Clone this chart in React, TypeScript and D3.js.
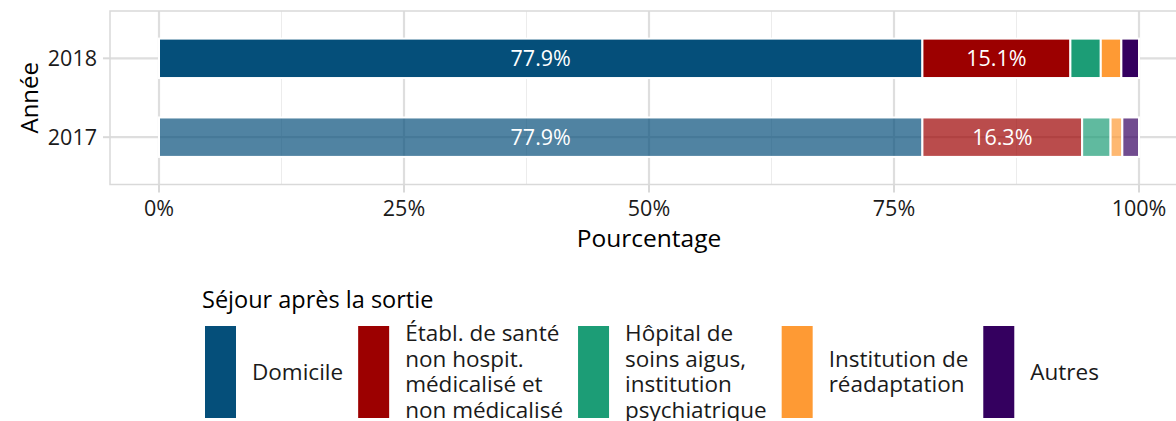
import * as d3 from 'd3';
import React, { useRef, useEffect } from 'react';

const W = 1176;
const H = 421;
const FONT = '"Open Sans", "Noto Sans", sans-serif';

const years = ['2018', '2017'];
const categories = [
  'Domicile',
  'Établ. de santé non hospit. médicalisé et non médicalisé',
  'Hôpital de soins aigus, institution psychiatrique',
  'Institution de réadaptation',
  'Autres'
];
const legendLines = [
  ['Domicile'],
  ['Établ. de santé', 'non hospit.', 'médicalisé et', 'non médicalisé'],
  ['Hôpital de', 'soins aigus,', 'institution', 'psychiatrique'],
  ['Institution de', 'réadaptation'],
  ['Autres']
];
const colors = ['#054f7a', '#9c0000', '#1c9d76', '#fe9a34', '#34005f'];
const values2018 = [77.9, 15.1, 3.1, 2.1, 1.8];
const values2017 = [77.9, 16.3, 2.9, 1.2, 1.7];
const opacity = { '2018': 1, '2017': 0.7 };
const xTicks = [0, 0.25, 0.5, 0.75, 1];
const xMinor = [0.125, 0.375, 0.625, 0.875];

const App = () => {
  const svgRef = useRef(null);

  useEffect(() => {
    const svg = d3.select(svgRef.current);
    svg.selectAll('*').remove();

    const panel = { left: 110, top: 11, bottom: 184.5, right: 1188 };
    const x = d3.scaleLinear().domain([-0.05, 1.05]).range([panel.left, panel.right]);
    const y = d3.scalePoint().domain(years).range([panel.top, panel.bottom]).padding(0.6);
    const bw = y.step() * 0.5;

    // minor grid
    svg.append('g').selectAll('line').data(xMinor).join('line')
      .attr('x1', d => x(d)).attr('x2', d => x(d))
      .attr('y1', panel.top).attr('y2', panel.bottom)
      .attr('stroke', '#ececec').attr('stroke-width', 1);
    // major grid
    svg.append('g').selectAll('line').data(xTicks).join('line')
      .attr('x1', d => x(d)).attr('x2', d => x(d))
      .attr('y1', panel.top).attr('y2', panel.bottom)
      .attr('stroke', '#dedede').attr('stroke-width', 2.2);
    svg.append('g').selectAll('line').data(years).join('line')
      .attr('x1', panel.left).attr('x2', panel.right)
      .attr('y1', d => y(d)).attr('y2', d => y(d))
      .attr('stroke', '#dedede').attr('stroke-width', 2.2);

    // stacked bars
    const rows = [
      { year: '2018', vals: values2018 },
      { year: '2017', vals: values2017 }
    ];
    rows.forEach(row => {
      const ends = d3.cumsum(row.vals);
      const segs = row.vals.map((v, i) => ({ v, i, x0: (ends[i] - v) / 100, x1: ends[i] / 100 }));
      const g = svg.append('g');
      g.selectAll('rect').data(segs).join('rect')
        .attr('x', d => x(d.x0))
        .attr('width', d => x(d.x1) - x(d.x0))
        .attr('y', y(row.year) - bw / 2)
        .attr('height', bw)
        .attr('fill', d => colors[d.i])
        .attr('fill-opacity', opacity[row.year])
        .attr('stroke', '#fff')
        .attr('stroke-width', 2);
      g.selectAll('text').data(segs.filter(d => d.v >= 10)).join('text')
        .attr('x', d => x((d.x0 + d.x1) / 2))
        .attr('y', y(row.year))
        .attr('dy', '0.36em')
        .attr('text-anchor', 'middle')
        .attr('fill', '#fff')
        .style('font-family', FONT)
        .style('font-size', '21.5px')
        .text(d => d.v.toFixed(1) + '%');
    });

    // panel border
    svg.append('rect')
      .attr('x', panel.left).attr('y', panel.top)
      .attr('width', panel.right - panel.left).attr('height', panel.bottom - panel.top)
      .attr('fill', 'none').attr('stroke', '#d9d9d9').attr('stroke-width', 1.5);

    // x axis
    const xa = svg.append('g');
    xa.selectAll('line').data(xTicks).join('line')
      .attr('x1', d => x(d)).attr('x2', d => x(d))
      .attr('y1', panel.bottom).attr('y2', panel.bottom + 8)
      .attr('stroke', '#d9d9d9').attr('stroke-width', 2);
    xa.selectAll('text').data(xTicks).join('text')
      .attr('x', d => x(d)).attr('y', 216)
      .attr('text-anchor', 'middle')
      .style('font-family', FONT).style('font-size', '21.5px').attr('fill', '#1a1a1a')
      .text(d3.format('.0%'));
    svg.append('text')
      .attr('x', x(0.5)).attr('y', 247)
      .attr('text-anchor', 'middle')
      .style('font-family', FONT).style('font-size', '24.5px').attr('fill', '#000')
      .text('Pourcentage');

    // y axis
    const ya = svg.append('g');
    ya.selectAll('line').data(years).join('line')
      .attr('x1', panel.left - 7).attr('x2', panel.left)
      .attr('y1', d => y(d)).attr('y2', d => y(d))
      .attr('stroke', '#d9d9d9').attr('stroke-width', 2);
    ya.selectAll('text').data(years).join('text')
      .attr('x', panel.left - 13).attr('y', d => y(d))
      .attr('dy', '0.36em')
      .attr('text-anchor', 'end')
      .style('font-family', FONT).style('font-size', '21.5px').attr('fill', '#1a1a1a')
      .text(d => d);
    svg.append('text')
      .attr('transform', `translate(38,${(panel.top + panel.bottom) / 2}) rotate(-90)`)
      .attr('text-anchor', 'middle')
      .style('font-family', FONT).style('font-size', '24px').attr('fill', '#000')
      .text('Année');

    // legend
    const leg = svg.append('g');
    leg.append('text')
      .attr('x', 202).attr('y', 308)
      .style('font-family', FONT).style('font-size', '23.5px').attr('fill', '#000')
      .text('Séjour après la sortie');
    const keyTop = 326, keyH = 92, keyW = 31, lineH = 25.5;
    let cx = 205;
    categories.forEach((c, i) => {
      leg.append('rect')
        .attr('x', cx).attr('y', keyTop)
        .attr('width', keyW).attr('height', keyH)
        .attr('fill', colors[i]);
      const lines = legendLines[i];
      const t = leg.append('text')
        .style('font-family', FONT).style('font-size', '22.5px').attr('fill', '#1a1a1a');
      const y0 = keyTop + keyH / 2 - (lines.length - 1) * lineH / 2;
      lines.forEach((l, j) => {
        t.append('tspan')
          .attr('x', cx + keyW + 16)
          .attr('y', y0 + j * lineH)
          .attr('dy', '0.34em')
          .text(l);
      });
      const tw = t.node().getBBox().width;
      cx = cx + keyW + 16 + tw + 15;
    });
  }, []);

  return (
    <svg ref={svgRef} width={W} height={H}
      style={{ position: 'absolute', left: 0, top: 0, background: '#fff' }} />
  );
};

export default App;
